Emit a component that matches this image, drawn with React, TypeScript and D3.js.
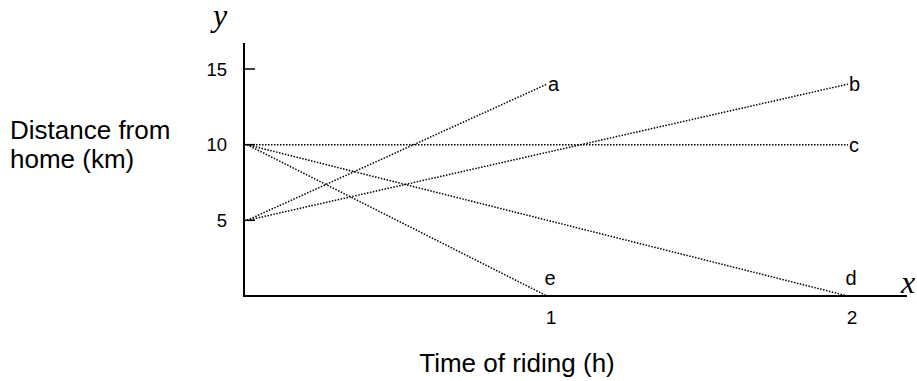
import React from "react";
import * as d3 from "d3";

const yTicks = [5, 10, 15];
const xTicks = [1, 2];
const lineNames = ["a", "b", "c", "d", "e"];
const startValues = [5, 5, 10, 10, 10];
const endTimes = [1, 2, 2, 2, 1];
const endValues = [14, 14, 10, 0, 0];

export default function App() {
  const W = 917, H = 381;
  const axisX = 244;
  const x = d3.scaleLinear().domain([0, 2]).range([246, 848]);
  const y = d3.scaleLinear().domain([0, 15]).range([296, 69]);
  const font = "Arial, 'Liberation Sans', sans-serif";
  const serif = "'Times New Roman', 'Liberation Serif', serif";
  const line = d3.line<[number, number]>().x(d => d[0]).y(d => d[1]);
  return (
    <svg width={W} height={H} style={{ position: "absolute", left: 0, top: 0, background: "#fff" }}>
      {lineNames.map((n, i) => {
        const p: [number, number][] = [
          [x(0) + 1, y(startValues[i])],
          [x(endTimes[i]), y(endValues[i])],
        ];
        const atZero = endValues[i] === 0;
        const lx = x(endTimes[i]) + (atZero ? 3 : 1);
        const ly = atZero ? y(0) - 11 : y(endValues[i]) + 7;
        return (
          <g key={n}>
            <path d={line(p) || ""} fill="none" stroke="#000" strokeWidth={1.5} strokeDasharray="1.5 1.5" />
            <text x={lx} y={ly} textAnchor={atZero ? "middle" : "start"} fontFamily={font} fontSize={20}>{n}</text>
          </g>
        );
      })}
      <line x1={axisX} x2={axisX} y1={43} y2={y(0)} stroke="#000" strokeWidth={2} />
      <line x1={axisX - 1} x2={907} y1={y(0)} y2={y(0)} stroke="#000" strokeWidth={2} />
      {yTicks.map(t => (
        <g key={t}>
          <line x1={axisX} x2={axisX + 11} y1={y(t)} y2={y(t)} stroke="#000" strokeWidth={1.5} />
          <text x={227} y={y(t)} dy="0.36em" textAnchor="end" fontFamily={font} fontSize={18.5}>{t}</text>
        </g>
      ))}
      {xTicks.map(t => (
        <text key={t} x={x(t) + 4} y={324} textAnchor="middle" fontFamily={font} fontSize={19}>{t}</text>
      ))}
      <text x={213} y={26} fontFamily={serif} fontStyle="italic" fontSize={32}>y</text>
      <text x={901} y={293} fontFamily={serif} fontStyle="italic" fontSize={32}>x</text>
      <text x={10} y={139} fontFamily={font} fontSize={26}>Distance from</text>
      <text x={10} y={168} fontFamily={font} fontSize={26}>home (km)</text>
      <text x={517} y={372} textAnchor="middle" fontFamily={font} fontSize={26}>Time of riding (h)</text>
    </svg>
  );
}
